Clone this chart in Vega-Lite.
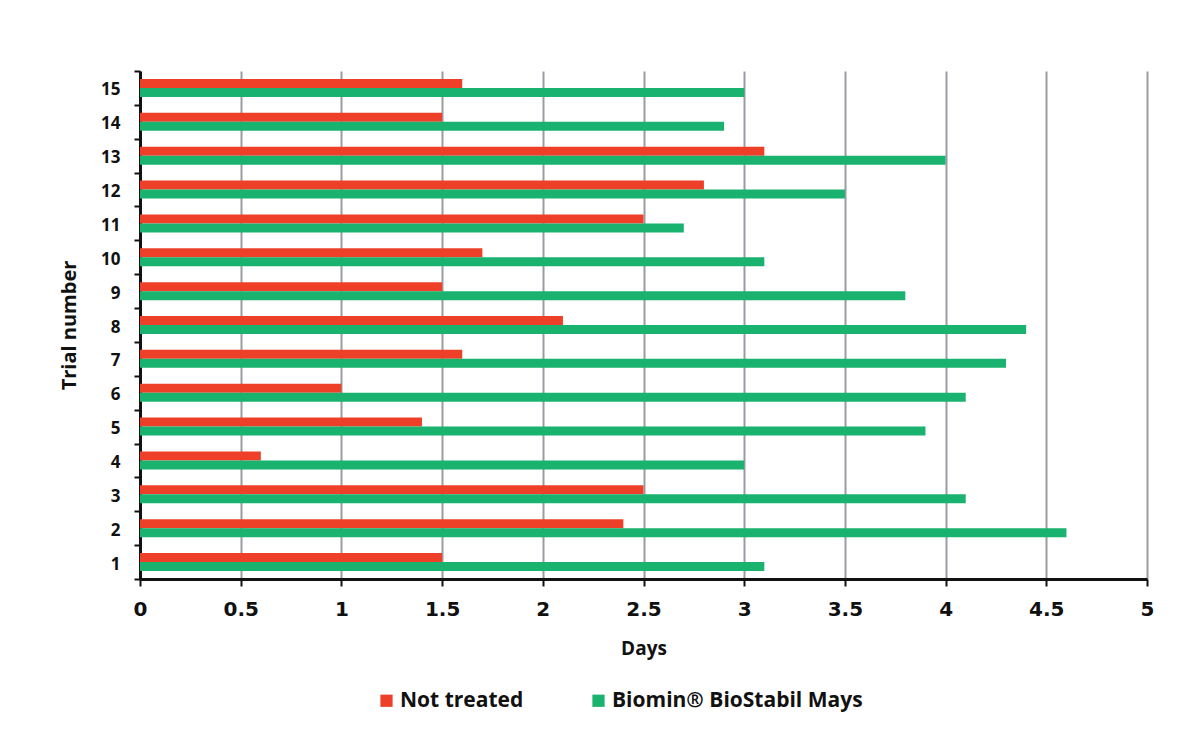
{
  "$schema": "https://vega.github.io/schema/vega-lite/v6.json",
  "autosize": {"type": "none"},
  "padding": {"left": 140, "top": 71, "right": 44, "bottom": 161},
  "width": 1007,
  "height": 508,
  "background": "white",
  "config": {"view": {"stroke": null}},
  "data": {
    "values": [
      {"trial": 15, "series": "Not treated", "days": 1.6},
      {"trial": 15, "series": "Biomin® BioStabil Mays", "days": 3.0},
      {"trial": 14, "series": "Not treated", "days": 1.5},
      {"trial": 14, "series": "Biomin® BioStabil Mays", "days": 2.9},
      {"trial": 13, "series": "Not treated", "days": 3.1},
      {"trial": 13, "series": "Biomin® BioStabil Mays", "days": 4.0},
      {"trial": 12, "series": "Not treated", "days": 2.8},
      {"trial": 12, "series": "Biomin® BioStabil Mays", "days": 3.5},
      {"trial": 11, "series": "Not treated", "days": 2.5},
      {"trial": 11, "series": "Biomin® BioStabil Mays", "days": 2.7},
      {"trial": 10, "series": "Not treated", "days": 1.7},
      {"trial": 10, "series": "Biomin® BioStabil Mays", "days": 3.1},
      {"trial": 9, "series": "Not treated", "days": 1.5},
      {"trial": 9, "series": "Biomin® BioStabil Mays", "days": 3.8},
      {"trial": 8, "series": "Not treated", "days": 2.1},
      {"trial": 8, "series": "Biomin® BioStabil Mays", "days": 4.4},
      {"trial": 7, "series": "Not treated", "days": 1.6},
      {"trial": 7, "series": "Biomin® BioStabil Mays", "days": 4.3},
      {"trial": 6, "series": "Not treated", "days": 1.0},
      {"trial": 6, "series": "Biomin® BioStabil Mays", "days": 4.1},
      {"trial": 5, "series": "Not treated", "days": 1.4},
      {"trial": 5, "series": "Biomin® BioStabil Mays", "days": 3.9},
      {"trial": 4, "series": "Not treated", "days": 0.6},
      {"trial": 4, "series": "Biomin® BioStabil Mays", "days": 3.0},
      {"trial": 3, "series": "Not treated", "days": 2.5},
      {"trial": 3, "series": "Biomin® BioStabil Mays", "days": 4.1},
      {"trial": 2, "series": "Not treated", "days": 2.4},
      {"trial": 2, "series": "Biomin® BioStabil Mays", "days": 4.6},
      {"trial": 1, "series": "Not treated", "days": 1.5},
      {"trial": 1, "series": "Biomin® BioStabil Mays", "days": 3.1}
    ]
  },
  "mark": {"type": "bar"},
  "encoding": {
    "y": {
      "field": "trial",
      "type": "ordinal",
      "sort": "descending",
      "scale": {"paddingInner": 0, "paddingOuter": 0},
      "axis": {
        "title": "Trial number",
        "titleFont": "Open Sans",
        "titleFontSize": 20,
        "titleFontWeight": "bold",
        "titleColor": "#111111",
        "titleAngle": -90,
        "titleX": -71,
        "titleY": 254,
        "titleAlign": "center",
        "titleBaseline": "middle",
        "labelFont": "Open Sans",
        "labelFontSize": 17,
        "labelFontWeight": "bold",
        "labelColor": "#111111",
        "labelPadding": 14,
        "labelOffset": 2,
        "bandPosition": 0,
        "tickBand": "extent",
        "ticks": true,
        "tickSize": 6,
        "tickWidth": 2,
        "tickColor": "#111111",
        "domainColor": "#111111",
        "domainWidth": 3,
        "grid": false,
        "labelAngle": 0
      }
    },
    "yOffset": {
      "field": "series",
      "type": "nominal",
      "sort": ["Not treated", "Biomin® BioStabil Mays"],
      "scale": {"paddingInner": 0, "paddingOuter": 0.88}
    },
    "x": {
      "field": "days",
      "type": "quantitative",
      "scale": {"domain": [0, 5], "nice": false},
      "axis": {
        "title": "Days",
        "titleFont": "Open Sans",
        "titleFontSize": 19,
        "titleFontWeight": "bold",
        "titleColor": "#111111",
        "titleY": 69,
        "titleBaseline": "middle",
        "values": [0, 0.5, 1, 1.5, 2, 2.5, 3, 3.5, 4, 4.5, 5],
        "format": "~g",
        "labelFont": "DejaVu Sans",
        "labelFontSize": 20,
        "labelFontWeight": "bold",
        "labelColor": "#111111",
        "labelPadding": 13,
        "labelFlush": false,
        "labelOverlap": false,
        "tickSize": 7,
        "tickWidth": 2,
        "tickColor": "#111111",
        "domainColor": "#111111",
        "domainWidth": 3,
        "grid": true,
        "gridColor": "#9a9ca4",
        "gridWidth": 2
      }
    },
    "color": {
      "field": "series",
      "type": "nominal",
      "sort": ["Not treated", "Biomin® BioStabil Mays"],
      "scale": {"domain": ["Not treated", "Biomin® BioStabil Mays"], "range": ["#ee4029", "#19b26f"]},
      "legend": {
        "title": null,
        "orient": "none",
        "legendX": 236,
        "legendY": 619,
        "direction": "horizontal",
        "symbolType": "square",
        "symbolSize": 150,
        "symbolStrokeWidth": 0,
        "labelFont": "Open Sans",
        "labelFontSize": 21,
        "labelFontWeight": "bold",
        "labelColor": "#111111",
        "labelLimit": 0,
        "labelOffset": 3,
        "columnPadding": 64
      }
    }
  }
}
